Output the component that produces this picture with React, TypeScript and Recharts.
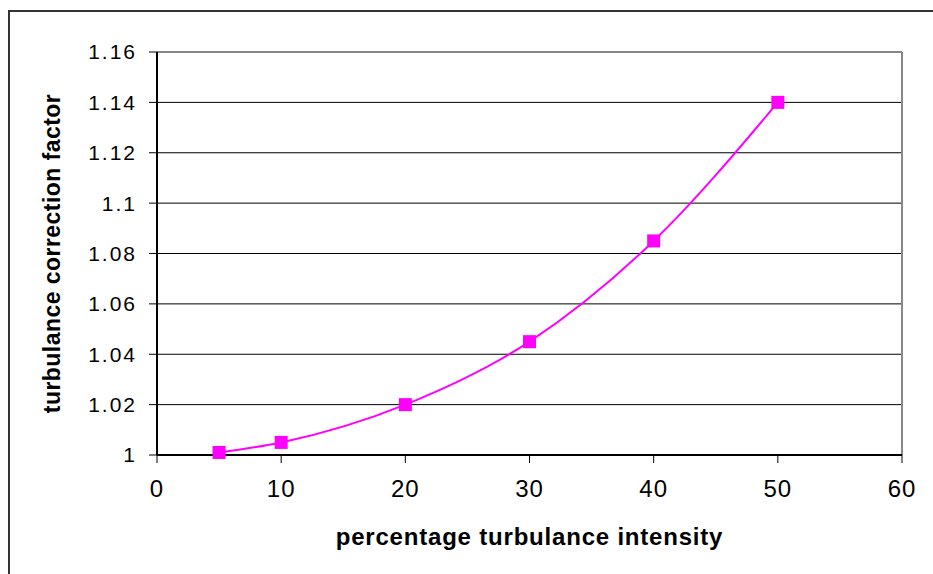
import React from 'react';
import { LineChart, Line, XAxis, YAxis, CartesianGrid, ReferenceLine } from 'recharts';

const intensity = [5, 10, 20, 30, 40, 50];
const correction = [1.001, 1.005, 1.02, 1.045, 1.085, 1.14];
const xTicks = [0, 10, 20, 30, 40, 50, 60];
const yTicks = [1, 1.02, 1.04, 1.06, 1.08, 1.1, 1.12, 1.14, 1.16];

const data = intensity.map((x, i) => ({ x, y: correction[i] }));

const SquareDot = (props: any) => {
  const { cx, cy } = props;
  if (cx == null || cy == null) return null;
  return <rect x={cx - 6.5} y={cy - 6.5} width={13} height={13} fill="#FF00FF" />;
};

const font = 'Arial, "Liberation Sans", Helvetica, sans-serif';

export default function App() {
  return (
    <div style={{ position: 'absolute', left: 0, top: 0, width: 933, height: 574, background: '#fff', overflow: 'hidden' }}>
      <div style={{ position: 'absolute', left: 8, top: 10, width: 1000, height: 700, borderTop: '2px solid #333', borderLeft: '2px solid #333' }} />
      <div style={{ position: 'absolute', left: 0, top: 0 }}>
        <LineChart width={933} height={574} data={data} margin={{ top: 52, right: 31, left: 97, bottom: 119 - 60 }}>
          <CartesianGrid vertical={false} stroke="#000" strokeWidth={1} horizontalValues={yTicks} />
          <XAxis
            dataKey="x"
            type="number"
            domain={[0, 60]}
            ticks={xTicks}
            height={60}
            axisLine={{ stroke: '#000', strokeWidth: 2 }}
            tickLine={{ stroke: '#000', strokeWidth: 1 }}
            tickSize={8}
            tickMargin={17}
            tick={{ fill: '#000', fontSize: 24, fontFamily: font, letterSpacing: 1 }}
            label={{ value: 'percentage turbulance intensity', position: 'insideBottom', offset: -30, fill: '#000', fontSize: 24, fontWeight: 'bold', fontFamily: font, letterSpacing: 0.8 }}
          />
          <YAxis
            type="number"
            domain={[1, 1.16]}
            ticks={yTicks}
            width={60}
            axisLine={{ stroke: '#000', strokeWidth: 2 }}
            tickLine={{ stroke: '#000', strokeWidth: 1 }}
            tickSize={8}
            tickMargin={12}
            tickFormatter={(v: number) => String(Number(v.toFixed(2)))}
            tick={{ fill: '#000', fontSize: 21, fontFamily: font, letterSpacing: 2 }}
            label={{ value: 'turbulance correction factor', angle: -90, position: 'insideLeft', offset: -45, style: { textAnchor: 'middle' }, fill: '#000', fontSize: 23, fontWeight: 'bold', fontFamily: font, letterSpacing: 0.45 }}
          />
          <ReferenceLine y={1.16} stroke="#888" strokeWidth={2} />
          <ReferenceLine x={60} stroke="#888" strokeWidth={2} />
          <Line
            type="monotone"
            dataKey="y"
            stroke="#FF00FF"
            strokeWidth={2}
            dot={<SquareDot />}
            activeDot={false}
            isAnimationActive={false}
          />
        </LineChart>
      </div>
    </div>
  );
}
